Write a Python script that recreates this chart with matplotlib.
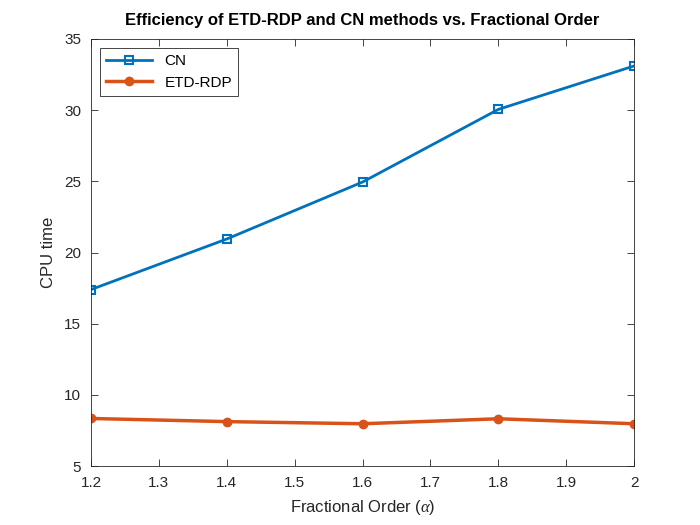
import matplotlib
matplotlib.use("Agg")
import matplotlib.pyplot as plt

plt.rcParams['font.family'] = ['Liberation Sans', 'DejaVu Sans']
plt.rcParams['mathtext.fontset'] = 'custom'
plt.rcParams['mathtext.it'] = 'Liberation Serif:italic'

alpha = [1.2, 1.4, 1.6, 1.8, 2.0]
cn_time = [17.4, 20.95, 24.95, 30.05, 33.1]
etd_time = [8.35, 8.13, 7.98, 8.33, 7.98]

fig = plt.figure(figsize=(7, 5.25), dpi=100)
ax = fig.add_axes([0.13, 0.112, 0.776, 0.814])

ax.plot(alpha, cn_time, color='#0072BD', linewidth=2, marker='s', markersize=6,
        markerfacecolor='none', markeredgewidth=1.5, label='CN')
ax.plot(alpha, etd_time, color='#D95319', linewidth=2.5, marker='o', markersize=6,
        label='ETD-RDP')

ax.set_xlim(1.2, 2)
ax.set_ylim(5, 35)
ax.set_xticks([1.2, 1.3, 1.4, 1.5, 1.6, 1.7, 1.8, 1.9, 2.0])
ax.set_xticklabels(['1.2', '1.3', '1.4', '1.5', '1.6', '1.7', '1.8', '1.9', '2'])
ax.set_yticks([5, 10, 15, 20, 25, 30, 35])
ax.tick_params(direction='in', top=True, right=True, labelsize=11, length=5,
               width=0.6, pad=7, colors='#262626')
for s in ax.spines.values():
    s.set_linewidth(0.6)
    s.set_color('#262626')

ax.set_xlabel(r'Fractional Order ($\alpha$)', fontsize=12, labelpad=6, color='#262626')
ax.set_ylabel('CPU time', fontsize=12, labelpad=6, color='#262626')
ax.set_title('Efficiency of ETD-RDP and CN methods vs. Fractional Order',
             fontsize=12, fontweight='bold', pad=10)

leg = ax.legend(loc='upper left', fontsize=11, fancybox=False, framealpha=1,
                edgecolor='#262626', handlelength=3, borderaxespad=0.6)
leg.get_frame().set_linewidth(0.6)

fig.savefig('out.png')
